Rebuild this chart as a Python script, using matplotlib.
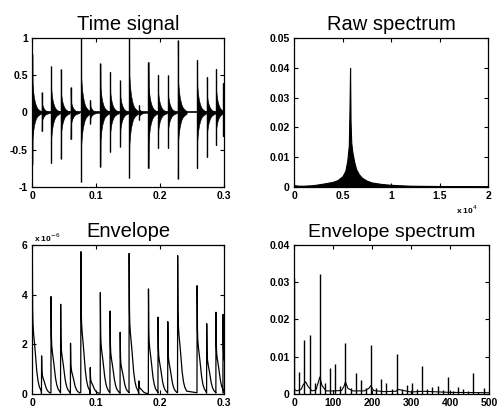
"""Bearing fault demo: time signal, raw spectrum, envelope and envelope spectrum."""

import numpy as np
import matplotlib
matplotlib.use("Agg")
from matplotlib import pyplot as plt

plt.rcParams["font.family"] = ["Liberation Sans", "DejaVu Sans"]

# impact times (s)
impact_t = [0.0005, 0.0150, 0.0298, 0.0448, 0.0602, 0.0764, 0.0910, 0.1068, 0.1220, 0.1378,
            0.1518, 0.1670, 0.1820, 0.1970, 0.2122, 0.2276, 0.2580, 0.2730, 0.2875, 0.2985]
# time signal peak values (positive / negative side)
sig_pos = [0.79, 0.27, 0.62, 0.58, 0.34, 1.00, 0.17, 0.66, 0.55, 0.43,
           1.00, 0.10, 0.68, 0.51, 0.50, 0.97, 0.71, 0.48, 0.59, 0.40]
sig_neg = [-0.70, -0.25, -0.68, -0.62, -0.36, -0.93, -0.15, -0.73, -0.53, -0.46,
           -0.88, -0.10, -0.75, -0.48, -0.48, -0.89, -0.75, -0.60, -0.44, -0.32]
# decay of one burst after an impact (offset in s, fraction of peak)
burst_dt = [0.0, 0.0003, 0.001, 0.002, 0.003, 0.0045, 0.006, 0.008, 0.011, 0.014]
burst_frac = [1.0, 0.50, 0.40, 0.30, 0.23, 0.16, 0.11, 0.07, 0.04, 0.02]

# envelope peaks (x 1e-6) and decay shape
env_peak = [5.66, 1.53, 3.92, 3.61, 2.04, 5.73, 1.06, 4.08, 3.34, 2.48,
            5.66, 0.52, 4.23, 3.09, 2.91, 5.57, 4.36, 2.83, 3.29, 3.20]
env_dt = [-0.0002, 0.0, 0.0005, 0.001, 0.002, 0.003, 0.004, 0.0055, 0.007, 0.009, 0.011, 0.014]
env_frac = [0.01, 1.0, 0.60, 0.50, 0.43, 0.38, 0.33, 0.24, 0.16, 0.09, 0.05, 0.02]

# raw spectrum outline (freq x 1e4, amplitude)
raw_f = [0.0, 0.05, 0.1, 0.2, 0.3, 0.4, 0.45, 0.5, 0.53, 0.55, 0.565, 0.572, 0.578, 0.583,
         0.59, 0.60, 0.62, 0.64, 0.67, 0.7, 0.75, 0.8, 0.9, 1.0, 1.2, 1.5, 2.0]
raw_a = [0.0006, 0.0004, 0.0004, 0.0006, 0.0011, 0.0017, 0.0023, 0.0036, 0.0055, 0.0090,
         0.0140, 0.026, 0.040, 0.022, 0.0150, 0.0120, 0.0085, 0.0060, 0.0042, 0.0031,
         0.0021, 0.0015, 0.0010, 0.0007, 0.0004, 0.0003, 0.0002]

# envelope spectrum: discrete lines and smooth background
es_f = [1, 13, 26, 40, 53, 66, 79, 92, 105, 118, 132, 145, 158, 171, 184, 197, 210, 224, 237,
        250, 263, 276, 289, 302, 316, 329, 342, 355, 368, 381, 395, 408, 421, 434, 447, 460,
        473, 487]
es_a = [0.031, 0.0058, 0.0146, 0.0159, 0.0029, 0.0322, 0.0030, 0.0069, 0.0081, 0.0020,
        0.0137, 0.0015, 0.0055, 0.0038, 0.0015, 0.0131, 0.0015, 0.0041, 0.0030, 0.0013,
        0.0108, 0.0013, 0.0025, 0.0028, 0.0012, 0.0074, 0.0012, 0.0019, 0.0022, 0.0010,
        0.0046, 0.0008, 0.0019, 0.0012, 0.0008, 0.0056, 0.0005, 0.0017]
es_bg_f = [0, 8, 18, 24, 30, 36, 46, 56, 62, 66, 72, 82, 100, 122, 128, 132, 138, 150, 180,
           192, 197, 204, 230, 262, 266, 300, 330, 400, 500]
es_bg_a = [0.0012, 0.0008, 0.0012, 0.0025, 0.0032, 0.0020, 0.0008, 0.0010, 0.0030, 0.0045,
           0.0022, 0.0008, 0.0008, 0.0009, 0.0020, 0.0032, 0.0015, 0.0008, 0.0008, 0.0015,
           0.0022, 0.0009, 0.0006, 0.0007, 0.0012, 0.0005, 0.0007, 0.0004, 0.0003]


def _style(ax, xticks, xlabels, yticks, ylabels):
    ax.set_xticks(xticks)
    ax.set_xticklabels(xlabels)
    ax.set_yticks(yticks)
    ax.set_yticklabels(ylabels)
    ax.tick_params(direction="in", top=True, right=True, length=3, width=0.8,
                   labelsize=7.5, pad=3)
    for lab in ax.get_xticklabels() + ax.get_yticklabels():
        lab.set_fontweight("bold")
    for sp in ax.spines.values():
        sp.set_linewidth(0.9)


fig = plt.figure(figsize=(5.0, 4.09), dpi=100)

# --- time signal
ax1 = fig.add_axes([0.064, 0.543, 0.384, 0.364])
ax1.axhline(0, color="black", lw=1.2)
for t, p, n in zip(impact_t, sig_pos, sig_neg):
    x = t + np.asarray(burst_dt)
    fr = np.asarray(burst_frac)
    ax1.fill_between(x, n * fr, p * fr, color="black", lw=0.4)
    ax1.vlines(t, n, p, color="black", lw=1.0)
ax1.set_xlim(0, 0.3)
ax1.set_ylim(-1, 1)
ax1.set_title("Time signal", fontsize=14.5)
_style(ax1, [0, 0.1, 0.2, 0.3], ["0", "0.1", "0.2", "0.3"],
       [-1, -0.5, 0, 0.5, 1], ["-1", "-0.5", "0", "0.5", "1"])

# --- raw spectrum
ax2 = fig.add_axes([0.588, 0.543, 0.388, 0.364])
ax2.fill_between(raw_f, 0, raw_a, color="black", lw=0.8)
ax2.set_xlim(0, 2)
ax2.set_ylim(0, 0.05)
ax2.set_title("Raw spectrum", fontsize=14.5)
_style(ax2, [0, 0.5, 1, 1.5, 2], ["0", "0.5", "1", "1.5", "2"],
       [0, 0.01, 0.02, 0.03, 0.04, 0.05], ["0", "0.01", "0.02", "0.03", "0.04", "0.05"])
fig.text(0.912, 0.487, r"x 10$^{4}$", fontsize=6, fontweight="bold", va="center")

# --- envelope
ax3 = fig.add_axes([0.064, 0.037, 0.384, 0.364])
env_x, env_y = [], []
for t, a in zip(impact_t, env_peak):
    env_x.extend(t + np.asarray(env_dt))
    env_y.extend(a * np.asarray(env_frac))
ax3.plot(env_x, env_y, color="black", lw=0.9)
ax3.set_xlim(0, 0.3)
ax3.set_ylim(0, 6)
ax3.set_title("Envelope", fontsize=14.5)
_style(ax3, [0, 0.1, 0.2, 0.3], ["0", "0.1", "0.2", "0.3"],
       [0, 2, 4, 6], ["0", "2", "4", "6"])
fig.text(0.068, 0.418, r"x 10$^{-6}$", fontsize=6, fontweight="bold", va="center")

# --- envelope spectrum
ax4 = fig.add_axes([0.588, 0.037, 0.390, 0.364])
ax4.plot(es_bg_f, es_bg_a, color="black", lw=0.8)
ax4.vlines(es_f, 0, es_a, color="black", lw=1.0)
ax4.set_xlim(0, 500)
ax4.set_ylim(0, 0.04)
ax4.set_title("Envelope spectrum", fontsize=14)
_style(ax4, [0, 100, 200, 300, 400, 500], ["0", "100", "200", "300", "400", "500"],
       [0, 0.01, 0.02, 0.03, 0.04], ["0", "0.01", "0.02", "0.03", "0.04"])

fig.savefig("out.png", dpi=100)
plt.close(fig)
